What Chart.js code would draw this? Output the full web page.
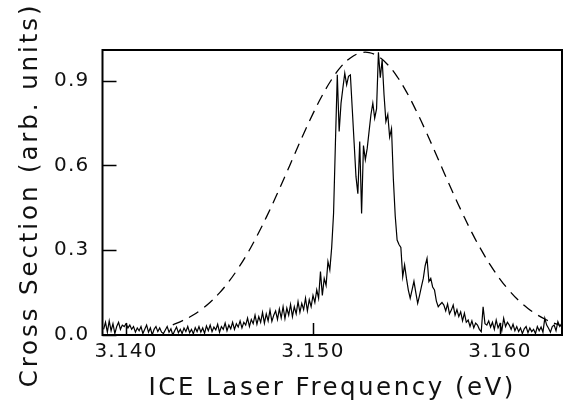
<!DOCTYPE html>
<html>
<head>
<meta charset="utf-8">
<script src="https://cdn.jsdelivr.net/npm/chart.js@4"></script>
<style>
  html, body { margin: 0; padding: 0; background: #fff; }
  canvas { display: block; }
</style>
</head>
<body>
<canvas id="chart1" width="572" height="408"></canvas>
<script>
// measured spectrum, sampled every 0.0001 eV starting at 3.1388 eV
const freqStart = 3.1388;
const freqStep = 0.0001;
const crossSection = [
  0.02, 0.045, 0.01, 0.05, 0.015, 0.04, 0.005, 0.03, 0.045, 0.02,
  0.035, 0.03, 0.04, 0.025, 0.035, 0.02, 0.03, 0.01, 0.025, 0.015,
  0.03, 0.005, 0.02, 0.035, 0.01, 0.025, 0.0, 0.02, 0.03, 0.012,
  0.025, 0.01, 0.005, 0.018, 0.03, 0.01, 0.022, 0.0, 0.015, 0.028,
  0.008, 0.02, 0.005, 0.025, 0.012, 0.03, 0.008, 0.02, 0.004, 0.026,
  0.012,
  0.03, 0.01, 0.025, 0.006, 0.032, 0.015, 0.035, 0.012, 0.028, 0.018,
  0.038, 0.01, 0.03, 0.02, 0.042, 0.015, 0.035, 0.022, 0.045, 0.02,
  0.04, 0.028, 0.05, 0.025, 0.045, 0.035, 0.06, 0.03, 0.055, 0.04,
  0.07, 0.038, 0.065, 0.045, 0.08, 0.042, 0.075, 0.05, 0.088, 0.048,
  0.07,
  0.085, 0.055, 0.092, 0.06, 0.1, 0.058, 0.095, 0.07, 0.108, 0.065,
  0.1, 0.075, 0.118, 0.08, 0.112, 0.09, 0.13, 0.085, 0.125, 0.1, 0.14,
  0.115, 0.16, 0.13, 0.224, 0.14, 0.2, 0.175, 0.26, 0.23, 0.31,
  0.43, 0.68, 0.92, 0.72, 0.82, 0.874, 0.926, 0.885, 0.915, 0.92,
  0.8, 0.68, 0.56, 0.5, 0.684, 0.43, 0.67, 0.62, 0.66, 0.72,
  0.78, 0.82, 0.767, 0.8, 1.0, 0.91, 0.973, 0.85, 0.755, 0.78,
  0.70, 0.73, 0.55, 0.42, 0.336, 0.32, 0.31, 0.206, 0.248, 0.2,
  0.159, 0.13, 0.16, 0.19, 0.15, 0.112, 0.14, 0.171, 0.2, 0.245,
  0.271, 0.189, 0.2, 0.17, 0.159, 0.12, 0.1,
  0.108,
  0.115, 0.106, 0.085, 0.11, 0.075, 0.088, 0.106, 0.07, 0.09, 0.065,
  0.082, 0.05, 0.077, 0.045, 0.053, 0.03, 0.05, 0.025, 0.042, 0.035,
  0.02, 0.012, 0.1, 0.04, 0.035, 0.05, 0.028, 0.045, 0.02, 0.053,
  0.025, 0.04, 0.015, 0.059, 0.03, 0.045, 0.035, 0.02, 0.038, 0.015,
  0.03, 0.012, 0.025, 0.005, 0.022, 0.03, 0.008, 0.025, 0.012, 0.02,
  0.005, 0.03, 0.015, 0.028, 0.01, 0.059, 0.035, 0.024, 0.01, 0.03,
  0.035, 0.015, 0.047, 0.03, 0.04,
];

// dashed envelope
const envFreq = [
  3.1425, 3.1430, 3.1435, 3.1440, 3.1445, 3.1450, 3.1455, 3.1460, 3.1465, 3.1470,
  3.1475, 3.1480, 3.1485, 3.1490, 3.1495, 3.1500, 3.1505, 3.1510, 3.1515, 3.1520,
  3.1525, 3.1530, 3.1535, 3.1540, 3.1545, 3.1550, 3.1555, 3.1560, 3.1565, 3.1570,
  3.1575, 3.1580, 3.1585, 3.1590, 3.1595, 3.1600, 3.1605, 3.1610, 3.1615, 3.1620,
  3.1625, 3.1630, 3.1633,
];
const envValues = [
  0.036, 0.050, 0.067, 0.089, 0.116, 0.149, 0.189, 0.236, 0.289, 0.350,
  0.416, 0.487, 0.561, 0.637, 0.712, 0.783, 0.848, 0.904, 0.949, 0.980,
  0.997, 0.999, 0.985, 0.956, 0.914, 0.860, 0.796, 0.726, 0.652, 0.576,
  0.501, 0.430, 0.362, 0.301, 0.246, 0.198, 0.157, 0.122, 0.094, 0.071,
  0.053, 0.039, 0.032,
];

const xTicks = [3.140, 3.150, 3.160];
const yTicks = [0.0, 0.3, 0.6, 0.9];
const xTitle = 'ICE Laser Frequency (eV)';
const yTitle = 'Cross Section (arb. units)';

const spectrum = crossSection.map((v, i) => ({
  x: +(freqStart + i * freqStep).toFixed(4),
  y: v,
}));
const envelope = envFreq.map((f, i) => ({ x: f, y: envValues[i] }));

const tickFont = { family: 'DejaVu Sans', size: 20 };

// wider letter spacing, like the plotter font of the original
const spacingPlugin = {
  id: 'spacing',
  beforeDraw(chart) { chart.ctx.letterSpacing = '1.2px'; },
  afterDraw(chart) { chart.ctx.letterSpacing = '0px'; },
};

// frame, inward ticks and axis titles
const framePlugin = {
  id: 'frame',
  afterDraw(chart) {
    const { ctx, chartArea: a, scales } = chart;
    ctx.save();
    ctx.strokeStyle = '#000';
    ctx.lineWidth = 2;
    ctx.strokeRect(a.left, a.top, a.right - a.left, a.bottom - a.top);
    ctx.lineWidth = 1.5;
    ctx.beginPath();
    scales.x.ticks.forEach(t => {
      const px = Math.round(scales.x.getPixelForValue(t.value)) + 0.5;
      ctx.moveTo(px, a.bottom);
      ctx.lineTo(px, a.bottom - 12);
    });
    scales.y.ticks.forEach(t => {
      const py = Math.round(scales.y.getPixelForValue(t.value)) + 0.5;
      ctx.moveTo(a.left, py);
      ctx.lineTo(a.left + 14, py);
    });
    ctx.stroke();

    ctx.fillStyle = '#111';
    ctx.font = '24.5px "DejaVu Sans"';
    ctx.textAlign = 'center';
    ctx.textBaseline = 'alphabetic';
    ctx.letterSpacing = '2.5px';
    ctx.fillText(xTitle, (a.left + a.right) / 2, 395);
    ctx.letterSpacing = '2.9px';
    ctx.translate(37, 195);
    ctx.rotate(-Math.PI / 2);
    ctx.fillText(yTitle, 0, 0);
    ctx.restore();
  },
};

const config = {
  type: 'line',
  data: {
    datasets: [
      {
        data: spectrum,
        borderColor: '#000',
        borderWidth: 1.2,
        pointRadius: 0,
        tension: 0,
        fill: false,
      },
      {
        data: envelope,
        borderColor: '#000',
        borderWidth: 1.3,
        borderDash: [11, 7],
        pointRadius: 0,
        tension: 0.4,
        fill: false,
      },
    ],
  },
  options: {
    responsive: false,
    animation: false,
    devicePixelRatio: 1,
    layout: { padding: { top: 50, right: 10, left: 0, bottom: 0 } },
    plugins: { legend: { display: false }, tooltip: { enabled: false } },
    scales: {
      x: {
        type: 'linear',
        min: 3.13874,
        max: 3.16332,
        grid: { display: false, drawTicks: false },
        border: { display: false },
        afterBuildTicks: s => { s.ticks = xTicks.map(v => ({ value: v })); },
        afterFit: s => { s.height = 73; },
        ticks: {
          font: tickFont,
          color: '#111',
          padding: 5,
          maxRotation: 0,
          callback: v => v.toFixed(3),
        },
      },
      y: {
        min: 0,
        max: 1.008,
        grid: { display: false, drawTicks: false },
        border: { display: false },
        afterBuildTicks: s => { s.ticks = yTicks.map(v => ({ value: v })); },
        afterFit: s => { s.width = 102.5; },
        ticks: {
          font: tickFont,
          color: '#111',
          padding: 13,
          callback: v => v.toFixed(1),
        },
      },
    },
  },
  plugins: [spacingPlugin, framePlugin],
};

var myChart = new Chart(document.getElementById('chart1'), config);
</script>
</body>
</html>
